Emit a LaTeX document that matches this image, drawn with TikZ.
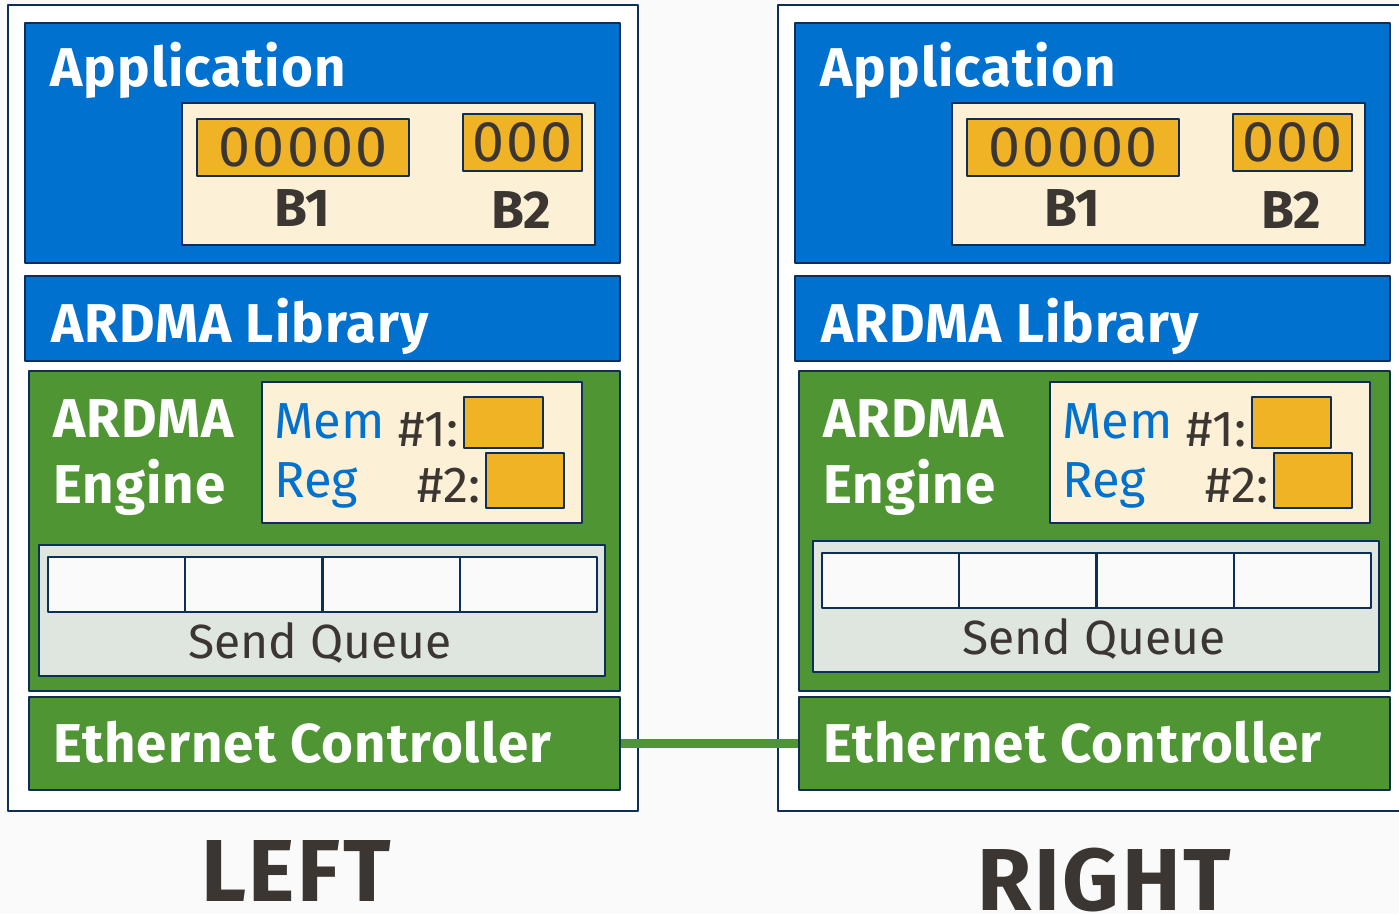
\documentclass[tikz,border=0pt]{standalone}
\usepackage{fontspec}
\setmainfont{Fira Sans}
\usetikzlibrary{fit,positioning}
\definecolor{paper}{RGB}{250,250,250}
\definecolor{navy}{RGB}{12,46,88}
\definecolor{appblue}{RGB}{0,113,206}
\definecolor{enggreen}{RGB}{80,149,51}
\definecolor{bufgold}{RGB}{239,179,37}
\definecolor{cream}{RGB}{252,240,214}
\definecolor{qgray}{RGB}{223,230,224}
\definecolor{ink}{RGB}{59,54,49}
\tikzset{
  box/.style={draw=navy, line width=1.8pt, inner sep=0pt},
  frame/.style={box, fill=white},
  layer/.style={box, fill=appblue},
  engbox/.style={box, fill=enggreen},
  panel/.style={box, fill=cream},
  buf/.style={box, fill=bufgold},
  queue/.style={box, fill=qgray},
  cell/.style={box, fill=paper},
  txt/.style={inner sep=0pt, anchor=base west},
  title/.style={txt, text=white, font=\fontsize{41}{49}\selectfont\bfseries\addfontfeature{LetterSpace=2}},
  digits/.style={inner sep=0pt, text=ink, font=\fontsize{43}{50}\selectfont\addfontfeature{LetterSpace=4}},
  bname/.style={inner sep=0pt, anchor=base, text=ink, font=\fontsize{40}{48}\selectfont\bfseries},
  regtxt/.style={txt, font=\fontsize{38}{46}\selectfont},
  sidelbl/.style={inner sep=0pt, anchor=base, text=ink, font=\fontsize{66}{72}\selectfont\bfseries\addfontfeature{LetterSpace=3}},
  link/.style={draw=enggreen, line width=6.8pt}
}
\begin{document}
\begin{tikzpicture}[x=0.75pt,y=-0.75pt, line join=round]
\fill[paper] (0,0) rectangle (1399,914);
\useasboundingbox (0,0) rectangle (1399,914);
% one host per pass: name suffix / shift of host / of registry / of queue (x,y)
\foreach \s/\dx/\mx/\qx/\qy in {L/0/0/0/0,R/770/788/774/-4}{
  \node[frame, fit={(8+\dx,5) (638+\dx,811)}] (frame\s) {};
  % application and its buffers
  \node[layer, fit={(25+\dx,23) (620+\dx,263)}] (app\s) {};
  \node[title] (appt\s) at (50+\dx,86) {Application};
  \node[panel, fit={(182+\dx,103) (595+\dx,245)}] (mem\s) {};
  \node[buf, fit={(197+\dx,119) (409+\dx,176)}] (bufA\s) {};
  \node[buf, fit={(463+\dx,114) (582+\dx,171)}] (bufB\s) {};
  \node[digits] at (bufA\s.center) {00000};
  \node[digits] at (bufB\s.center) {000};
  \node[bname] (bA\s) at (302+\dx,226) {B1};
  \node[bname] (bB\s) at (521+\dx,228) {B2};
  % library
  \node[layer, fit={(25+\dx,276) (620+\dx,361)}] (lib\s) {};
  \node[title] (libt\s) at (51+\dx,342) {ARDMA Library};
  % engine
  \node[engbox, fit={(29+\dx,371) (620+\dx,691)}] (eng\s) {};
  \node[title] (engA\s) at (53+\dx,437) {ARDMA};
  \node[title] (engB\s) at (53+\dx,503) {Engine};
  \node[panel, fit={(262+\mx,382) (582+\mx,523)}] (reg\s) {};
  \node[regtxt, text=appblue] (regA\s) at (274+\mx,438) {Mem};
  \node[regtxt, text=appblue] (regB\s) at (274+\mx,497) {Reg};
  \node[regtxt, text=ink, anchor=base east] (numA\s) at (459+\mx,446) {\#1:};
  \node[regtxt, text=ink, anchor=base east] (numB\s) at (481+\mx,502) {\#2:};
  \node[buf, fit={(464+\mx,397) (543+\mx,448)}] (slotA\s) {};
  \node[buf, fit={(486+\mx,453) (564+\mx,508)}] (slotB\s) {};
  \node[queue, fit={(39+\qx,545+\qy) (605+\qx,676+\qy)}] (sq\s) {};
  \foreach \i in {1,...,4}
    \node[cell, fit={({48+137.25*(\i-1)+\qx},557+\qy) ({48+137.25*\i+\qx},612+\qy)}] (cell\s\i) {};
  \node[inner sep=0pt, anchor=base, text=ink, font=\fontsize{36}{44}\selectfont] (sqt\s) at (320+\qx,658+\qy) {Send Queue};
  % controller
  \node[engbox, fit={(29+\dx,697) (620+\dx,790)}] (eth\s) {};
  \node[title] (etht\s) at (53+\dx,762) {Ethernet Controller};
}
\draw[link] (ethL.east) -- (ethR.west);
\node[sidelbl] (left) at (296,901) {LEFT};
\node[sidelbl] (right) at (1104,910) {RIGHT};
\end{tikzpicture}
\end{document}
